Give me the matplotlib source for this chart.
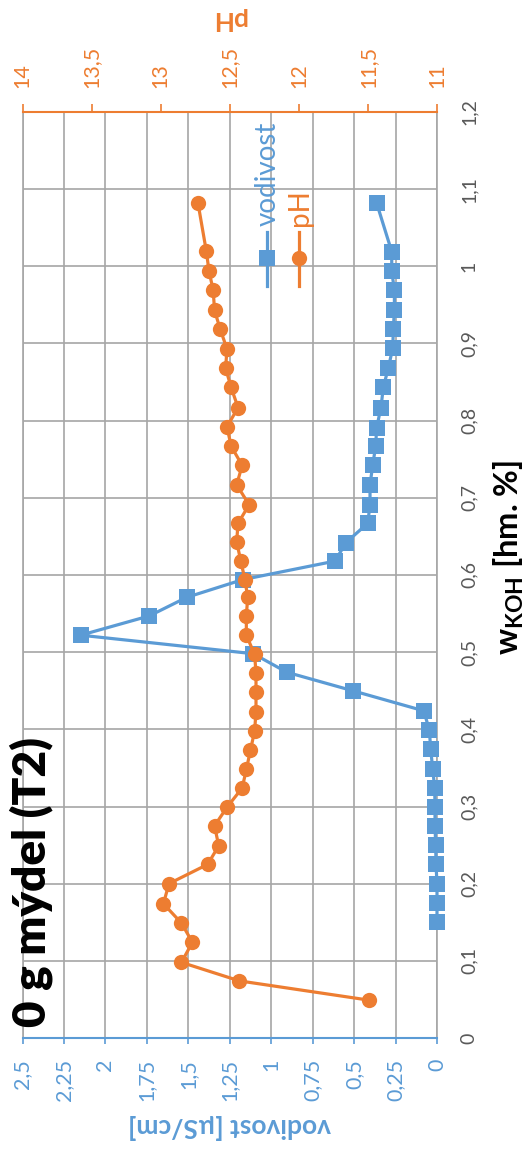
import matplotlib
matplotlib.use("Agg")
import matplotlib.pyplot as plt
from matplotlib.lines import Line2D

plt.rcParams["font.family"] = ["Lato", "DejaVu Sans"]
plt.rcParams["mathtext.fontset"] = "custom"
plt.rcParams["mathtext.rm"] = "Lato"
plt.rcParams["mathtext.bf"] = "Lato:bold"

# --- data -------------------------------------------------------------
w_vod = [0.15, 0.175, 0.2, 0.225, 0.25, 0.275, 0.3, 0.324, 0.349, 0.374,
         0.399, 0.424, 0.45, 0.474, 0.498, 0.522, 0.547, 0.571, 0.594,
         0.618, 0.642, 0.667, 0.691, 0.717, 0.742, 0.767, 0.791, 0.817,
         0.843, 0.868, 0.894, 0.919, 0.944, 0.969, 0.994, 1.019, 1.082]
vodivost = [0.0, 0.0, 0.0, 0.006, 0.008, 0.012, 0.012, 0.014, 0.026, 0.038,
            0.046, 0.08, 0.508, 0.906, 1.108, 2.149, 1.735, 1.51, 1.172,
            0.615, 0.549, 0.418, 0.404, 0.404, 0.388, 0.37, 0.364, 0.338,
            0.324, 0.294, 0.267, 0.263, 0.257, 0.257, 0.273, 0.273, 0.364]

w_ph = [0.049, 0.074, 0.098, 0.124, 0.149, 0.174, 0.2, 0.225, 0.249, 0.275,
        0.299, 0.324, 0.348, 0.373, 0.398, 0.423, 0.449, 0.473, 0.497, 0.522,
        0.547, 0.571, 0.594, 0.618, 0.643, 0.667, 0.691, 0.717, 0.742, 0.767,
        0.792, 0.817, 0.843, 0.868, 0.893, 0.919, 0.943, 0.969, 0.994, 1.02,
        1.082]
ph = [11.49, 12.43, 12.85, 12.77, 12.85, 12.98, 12.94, 12.66, 12.58, 12.61,
      12.52, 12.41, 12.38, 12.35, 12.32, 12.31, 12.31, 12.31, 12.32, 12.38,
      12.38, 12.37, 12.39, 12.42, 12.45, 12.44, 12.36, 12.45, 12.41, 12.49,
      12.52, 12.44, 12.49, 12.53, 12.52, 12.57, 12.61, 12.62, 12.65, 12.67,
      12.73]

w_ticks = [0, 0.1, 0.2, 0.3, 0.4, 0.5, 0.6, 0.7, 0.8, 0.9, 1.0, 1.1, 1.2]
w_labels = ["0", "0,1", "0,2", "0,3", "0,4", "0,5", "0,6", "0,7", "0,8",
            "0,9", "1", "1,1", "1,2"]
vod_ticks = [0, 0.25, 0.5, 0.75, 1.0, 1.25, 1.5, 1.75, 2.0, 2.25, 2.5]
vod_labels = ["0", "0,25", "0,5", "0,75", "1", "1,25", "1,5", "1,75", "2",
              "2,25", "2,5"]
ph_ticks = [11, 11.5, 12, 12.5, 13, 13.5, 14]
ph_labels = ["11", "11,5", "12", "12,5", "13", "13,5", "14"]

title = "0 g mýdel (T2)"
blue = "#5B9BD5"
orange = "#ED7D31"
grid_c = "#A6A6A6"
tick_c = "#595959"

# --- figure (the chart is laid out turned a quarter turn) ------------
W, H = 526, 1152
fig = plt.figure(figsize=(W / 100, H / 100), dpi=100)
fig.patch.set_facecolor("white")

x0, x1 = 22.5, 437.0
y_top, y_bot = 112.0, 1038.0
ax = fig.add_axes([x0 / W, 1 - y_bot / H, (x1 - x0) / W, (y_bot - y_top) / H])
ax.set_facecolor("white")

ax.set_xlim(2.5, 0)
ax.set_ylim(0, 1.2)
ax.set_xticks(vod_ticks)
ax.set_xticklabels(vod_labels)
ax.set_yticks(w_ticks)
ax.set_yticklabels(w_labels)
ax.yaxis.tick_right()
ax.grid(True, color=grid_c, linewidth=1.2, zorder=0)
ax.set_axisbelow(True)

ax.tick_params(axis="x", colors=blue, labelcolor=blue, direction="out",
               length=4, width=1.2, pad=11, labelsize=15.5, labelrotation=90)
ax.tick_params(axis="y", length=0, pad=17, labelsize=14,
               labelcolor=tick_c, labelrotation=90)
for lbl in ax.get_yticklabels():
    lbl.set_va("center")
    lbl.set_ha("left")

for s in ("left", "right"):
    ax.spines[s].set_color(grid_c)
    ax.spines[s].set_linewidth(1.2)
ax.spines["bottom"].set_color(blue)
ax.spines["bottom"].set_linewidth(1.5)
ax.spines["top"].set_visible(False)

ax2 = ax.twiny()
ax2.set_xlim(14, 11)
ax2.set_xticks(ph_ticks)
ax2.set_xticklabels(ph_labels)
ax2.tick_params(axis="x", colors=orange, labelcolor=orange, direction="out",
                length=6, width=1.2, pad=11, labelsize=15.5, labelrotation=90)
for s in ("left", "right", "bottom"):
    ax2.spines[s].set_visible(False)
ax2.spines["top"].set_color(orange)
ax2.spines["top"].set_linewidth(1.5)

ax.plot(vodivost, w_vod, color=blue, linewidth=2.3, marker="s",
        markersize=12, markeredgewidth=0, zorder=3, clip_on=False)
ax2.plot(ph, w_ph, color=orange, linewidth=2.3, marker="o",
         markersize=11, markeredgewidth=0, zorder=4, clip_on=False)

# --- axis titles ------------------------------------------------------
def fx(px):
    return px / W


def fy(py):
    return 1 - py / H


fig.text(fx(230), fy(1127), "vodivost [µS/cm]", color=blue, fontsize=19,
         fontweight="bold", rotation=180, ha="center", va="center")
fig.text(fx(229), fy(19), "pH", color=orange, fontsize=19,
         fontweight="bold", rotation=180, ha="center", va="center")
fig.text(fx(509), fy(558), r"$\mathbf{w}_{\mathbf{KOH}}$ [hm. %]",
         color="black", fontsize=23.5, fontweight="bold", rotation=90,
         ha="center", va="center")
fig.text(fx(31), fy(1027), title, color="black", fontsize=33,
         fontweight="heavy", rotation=90, ha="center", va="bottom")

# --- legend -----------------------------------------------------------
for px, col, mk, ms, name in [(267, blue, "s", 12, "vodivost"),
                              (299, orange, "o", 11, "pH")]:
    fig.add_artist(Line2D([fx(px), fx(px)], [fy(286), fy(232)], color=col,
                          linewidth=2.3, transform=fig.transFigure))
    fig.add_artist(Line2D([fx(px)], [fy(258)], color=col, marker=mk,
                          markersize=ms, markeredgewidth=0,
                          transform=fig.transFigure))
    fig.text(fx(px + 1), fy(226), name, color=col, fontsize=20,
             rotation=90, ha="center", va="bottom")

fig.savefig("out.png", dpi=100)
